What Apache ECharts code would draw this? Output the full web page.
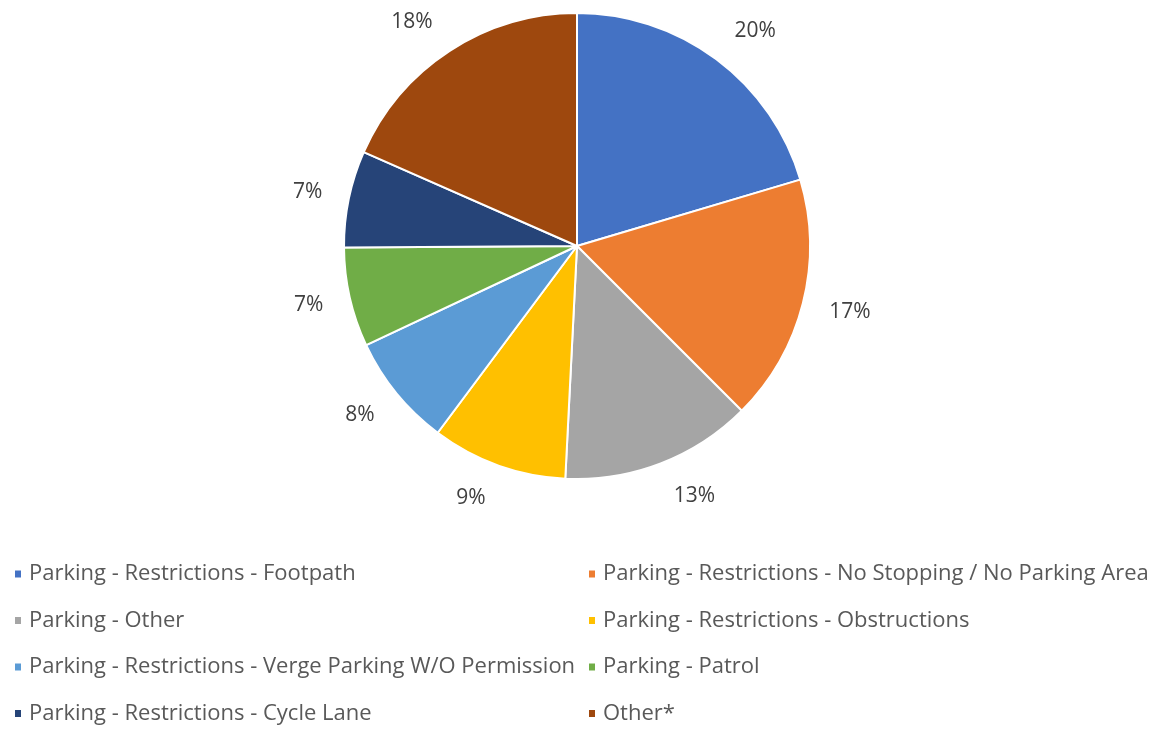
<!DOCTYPE html>
<html>
<head>
<meta charset="utf-8">
<script src="https://cdn.jsdelivr.net/npm/echarts@6/dist/echarts.min.js"></script>
<style>html,body{margin:0;padding:0;background:#fff}#c{width:1161px;height:729px}</style>
</head>
<body>
<div id="c"></div>
<script>
const categories = [
  "Parking - Restrictions - Footpath",
  "Parking - Restrictions - No Stopping / No Parking Area",
  "Parking - Other",
  "Parking - Restrictions - Obstructions",
  "Parking - Restrictions - Verge Parking W/O Permission",
  "Parking - Patrol",
  "Parking - Restrictions - Cycle Lane",
  "Other*"
];
const values = [20.4, 17.1, 13.3, 9.4, 7.8, 6.9, 6.7, 18.4];
const colors = ["#4472C4", "#ED7D31", "#A5A5A5", "#FFC000", "#5B9BD5", "#70AD47", "#264478", "#9E480E"];

const leftCol = [categories[0], categories[2], categories[4], categories[6]];
const rightCol = [categories[1], categories[3], categories[5], categories[7]];

const font = "'Open Sans', 'Noto Sans', sans-serif";
const legendBase = {
  orient: 'vertical',
  top: 563,
  height: 166,
  padding: 0,
  icon: 'rect',
  itemWidth: 8,
  itemHeight: 9,
  itemGap: 24.5,
  selectedMode: false,
  textStyle: { color: '#595959', fontSize: 22, fontFamily: font, padding: [0, 0, 0, 2] }
};

const pieCenter = [577, 246];
const chart = echarts.init(document.getElementById('c'), null, { renderer: 'canvas' });
chart.setOption({
  animation: false,
  color: colors,
  legend: [
    Object.assign({}, legendBase, { left: 13, data: leftCol }),
    Object.assign({}, legendBase, { left: 587, data: rightCol })
  ],
  series: [{
    type: 'pie',
    center: pieCenter,
    radius: 233,
    startAngle: 90,
    clockwise: true,
    data: categories.map((n, i) => ({ name: n, value: values[i] })),
    itemStyle: { borderColor: '#fff', borderWidth: 2 },
    label: {
      show: true,
      position: 'outside',
      formatter: p => Math.round(p.percent) + '%',
      color: '#404040',
      fontSize: 21,
      fontFamily: font
    },
    labelLine: { show: false, length: 22, length2: 0 },
    labelLayout: function (p) {
      const r = p.labelRect;
      const cyOff = r.y + r.height / 2 - pieCenter[1];
      return { dy: cyOff * 0.05 };
    },
    emphasis: { disabled: true }
  }]
});
</script>
</body>
</html>
